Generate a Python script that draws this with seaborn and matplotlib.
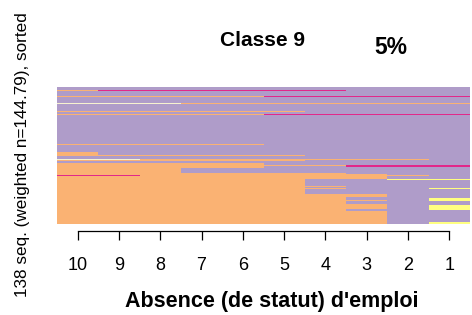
import numpy as np
import pandas as pd
import matplotlib
matplotlib.use("Agg")
import matplotlib.pyplot as plt
from matplotlib.colors import ListedColormap
import seaborn as sns

# ---- data ----
state_codes = ["P", "O", "M", "C", "Y"]
state_colors = ["#AF9CC9", "#FAB273", "#E2288A", "#F7F2CF", "#FFFF80"]
x_tick_labels = ["10", "9", "8", "7", "6", "5", "4", "3", "2", "1"]

# sequence patterns (top to bottom) and how many rows each
seq_patterns = [
    "PPPPPPPPPP", "OMMMMMMPPP", "PPPPPPPPPP", "OOOOOMMMMM", "PPPPPPPPPP",
    "CCCOOOOOOO", "PPPPPPPPPP", "OOOOOOPPPP", "PPPPPPPPPP", "OOOOOMMMMM",
    "PPPPPPPPPP", "OOOOOPPPPP", "PPPPPPPPPP", "OPPPPPPPPP", "OOOOOOPPPP",
    "PPPPPPPPPP", "CCOOOOOOOP", "OOOOOOPPPP", "PPPPPPPPPP", "OOOOOPPPPP",
    "OOOOOOOMMM", "OOOOOPPMMM", "OOOOOPPPPP", "OOOPPPPPPP", "OOOOOOOPPP",
    "OOOOOOOOPP", "MMOOOOOOOP", "OOOOOOOOPP", "OOOOOOPPYY",
    "OOOOOOPPPP", "OOOOOOOPPP", "OOOOOOPPPP", "OOOOOOOPPY", "OOOOOOPPPP",
    "OOOOOOOOPP", "OOOOOOOPPP", "OOOOOOOPPY", "OOOOOOOOPY", "OOOOOOOPPP",
    "OOOOOOOOPP", "OOOOOOOOPY", "OOOOOOOPPY", "OOOOOOOPPP", "OOOOOOOOPP",
    "OOOOOOOOPY",
]
seq_counts = [
    3, 1, 5, 1, 6,
    1, 7, 1, 2, 1,
    29, 1, 7, 3, 1,
    3, 1, 1, 2, 2,
    1, 1, 1, 5, 1,
    1, 1, 3, 1,
    6, 1, 1, 1, 5,
    3, 1, 2, 1, 3,
    1, 4, 1, 1, 11,
    2,
]

title_text = "Classe 9"
pct_text = "5%"
xlabel_text = "Absence (de statut) d'emploi"
ylabel_text = "138 seq. (weighted n=144.79), sorted"

# ---- build matrix ----
rows = []
for pat, n in zip(seq_patterns, seq_counts):
    codes = [state_codes.index(ch) for ch in pat]
    rows.extend([codes] * n)
mat = pd.DataFrame(np.array(rows), columns=x_tick_labels)

sns.set_style("white")
plt.rcParams["font.family"] = ["Liberation Sans", "DejaVu Sans"]

fig = plt.figure(figsize=(4.72, 3.15), dpi=100)
ax = fig.add_axes([57 / 472, (315 - 224) / 315, 413 / 472, 137 / 315])

sns.heatmap(mat, cmap=ListedColormap(state_colors), vmin=-0.5, vmax=4.5,
            cbar=False, ax=ax, xticklabels=True, yticklabels=False)

ax.set_xticks(np.arange(10) + 0.5)
ax.set_xticklabels(x_tick_labels, rotation=0)
ax.set_yticks([])
ax.set_xlabel("")
ax.set_ylabel("")
for s in ["top", "left", "right"]:
    ax.spines[s].set_visible(False)
ax.spines["bottom"].set_visible(True)
ax.spines["bottom"].set_color("black")
ax.spines["bottom"].set_linewidth(0.9)
ax.spines["bottom"].set_bounds(0.5, 9.5)
ax.spines["bottom"].set_position(("outward", 5))
ax.tick_params(axis="x", bottom=True, length=6.5, width=0.9, color="black",
               pad=12, labelsize=13, labelcolor="black")

fig.text(262 / 472, 1 - 40.5 / 315, title_text, ha="center", va="center",
         fontsize=15, fontweight="bold", color="black")
fig.text(391 / 472, 1 - 47 / 315, pct_text, ha="center", va="center",
         fontsize=16.5, fontweight="bold", color="black")
fig.text(272 / 472, 1 - 302 / 315, xlabel_text, ha="center", va="center",
         fontsize=15.5, fontweight="bold", color="black")
fig.text(23 / 472, 1 - 154.5 / 315, ylabel_text, ha="center", va="center",
         rotation=90, fontsize=12.3, color="black")

fig.savefig("out.png", dpi=100)
